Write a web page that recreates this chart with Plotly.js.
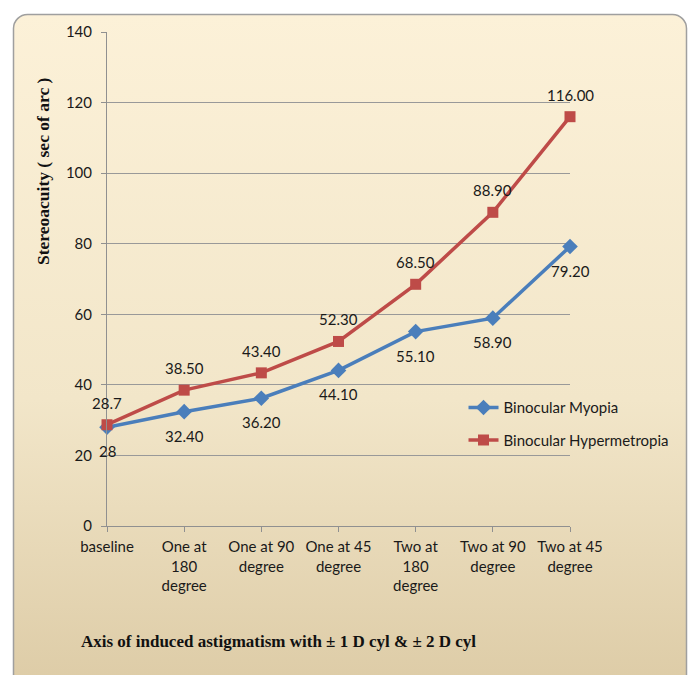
<!DOCTYPE html>
<html><head><meta charset="utf-8">
<script src="https://cdn.plot.ly/plotly-3.0.1.min.js"></script>
<style>html,body{margin:0;padding:0;background:#fff}#c{width:688px;height:675px}</style>
</head><body><div id="c"></div>
<script>
const categories = ["baseline","One at<br>180<br>degree","One at 90<br>degree","One at 45<br>degree","Two at<br>180<br>degree","Two at 90<br>degree","Two at 45<br>degree"];
const myopia = [28, 32.4, 36.2, 44.1, 55.1, 58.9, 79.2];
const myopiaLabels = ["28","32.40","36.20","44.10","55.10","58.90","79.20"];
const hyper = [28.7, 38.5, 43.4, 52.3, 68.5, 88.9, 116.0];
const hyperLabels = ["28.7","38.50","43.40","52.30","68.50","88.90","116.00"];
const yTicks = [0,20,40,60,80,100,120,140];

const W=688,H=675,L=107,R=118,T=32,B=149;
const pw=W-L-R, ph=H-T-B;
const svg = `<svg xmlns="http://www.w3.org/2000/svg" width="${W}" height="${H}"><defs><linearGradient id="g" x1="0" y1="0" x2="0" y2="1"><stop offset="0" stop-color="#fcf1d8"/><stop offset="0.55" stop-color="#f2e6c9"/><stop offset="1" stop-color="#dbc9a3"/></linearGradient></defs><rect x="13.5" y="14.5" width="673" height="700" rx="14" ry="14" fill="url(#g)" stroke="#9f9f9f" stroke-width="1.5"/></svg>`;
const src = "data:image/svg+xml;base64," + btoa(svg);

const font = "Lato, 'Open Sans', sans-serif";
const FS = 15;
const idx = categories.map((c,i)=>i);
const traces = [
 {x: idx, y: myopia, name: "Binocular Myopia", mode: "lines+markers",
  line:{color:"#4a7ebb",width:3.5}, marker:{symbol:"diamond",size:12,color:"#4a7ebb"},
  legendgroup:"a", cliponaxis:false},
 {x: idx, y: hyper, name: "Binocular Hypermetropia", mode: "lines+markers",
  line:{color:"#be4b48",width:3.5}, marker:{symbol:"square",size:11,color:"#be4b48"},
  legendgroup:"b", cliponaxis:false}
];
const labelAnn = [];
idx.forEach(i=>{
  labelAnn.push({x:i, y:myopia[i], xref:"x", yref:"y", text:myopiaLabels[i], showarrow:false,
    yshift:-24, xanchor:"center", yanchor:"middle", font:{family:font,size:FS,color:"#1a1a1a"}});
  labelAnn.push({x:i, y:hyper[i], xref:"x", yref:"y", text:hyperLabels[i], showarrow:false,
    yshift:22, xanchor:"center", yanchor:"middle", font:{family:font,size:FS,color:"#1a1a1a"}});
});
const layout = {
 width:W, height:H, margin:{l:L,r:R,t:T,b:B,pad:0},
 paper_bgcolor:"#ffffff", plot_bgcolor:"rgba(0,0,0,0)",
 font:{family:font,size:FS,color:"#1a1a1a"},
 images:[{source:src, xref:"paper", yref:"paper", x:-L/pw, y:1+T/ph, sizex:W/pw, sizey:H/ph,
   xanchor:"left", yanchor:"top", sizing:"stretch", layer:"below"}],
 xaxis:{range:[0,6], tickvals:idx, ticktext:categories, showgrid:false, zeroline:false,
   showline:true, linecolor:"#909090", linewidth:1, ticks:"outside", ticklen:5, tickcolor:"#909090",
   tickfont:{family:font,size:FS,color:"#1a1a1a"}, ticklabelstandoff:2},
 yaxis:{range:[0,140], tickvals:yTicks, showgrid:true, gridcolor:"#999999", gridwidth:1, zeroline:false,
   showline:true, linecolor:"#909090", linewidth:1, ticks:"outside", ticklen:5, tickcolor:"#909090",
   tickfont:{family:font,size:FS,color:"#1a1a1a"}, ticklabelstandoff:6},
 showlegend:true,
 legend:{x:0.77, y:0.207, xanchor:"left", yanchor:"middle", bgcolor:"rgba(0,0,0,0)",
   font:{family:font,size:FS,color:"#1a1a1a"}, traceorder:"grouped", tracegroupgap:10, itemwidth:30},
 annotations:labelAnn.concat([
  {text:"<b>Stereoacuity ( sec of arc )</b>", textangle:-90, xref:"paper", yref:"paper",
   x:(43-L)/pw, y:1-(171-T)/ph, xanchor:"center", yanchor:"middle", showarrow:false,
   font:{family:"'Liberation Serif', 'Times New Roman', serif", size:17.5, color:"#111"}},
  {text:"<b>Axis of induced astigmatism with ± 1 D cyl & ± 2 D cyl</b>", xref:"paper", yref:"paper",
   x:(278-L)/pw, y:1-(641-T)/ph, xanchor:"center", yanchor:"middle", showarrow:false,
   font:{family:"'Liberation Serif', 'Times New Roman', serif", size:17, color:"#111"}}
 ])
};
Plotly.newPlot("c", traces, layout, {displayModeBar:false, staticPlot:true});
</script></body></html>
